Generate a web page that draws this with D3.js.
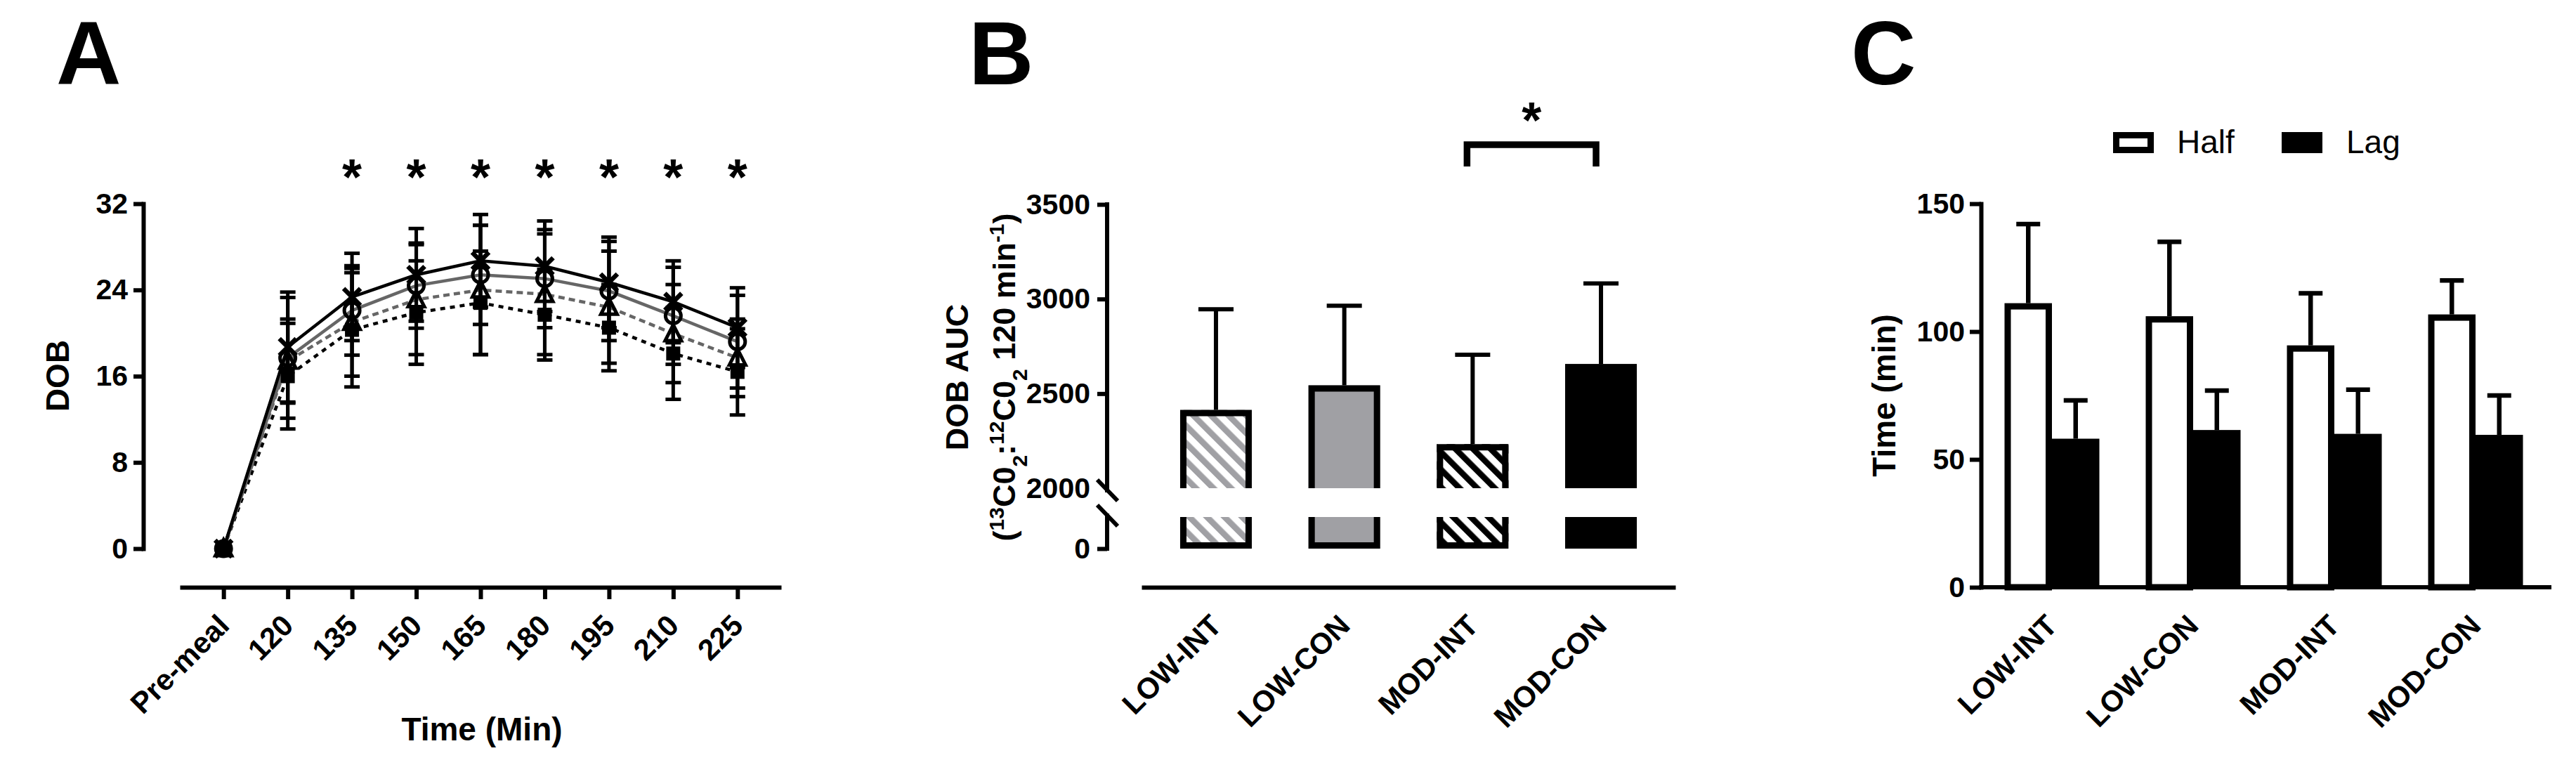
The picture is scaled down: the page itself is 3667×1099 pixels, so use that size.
<!DOCTYPE html>
<html>
<head>
<meta charset="utf-8">
<script src="https://cdn.jsdelivr.net/npm/d3@7"></script>
<style>
  html, body { margin: 0; padding: 0; background: #fff; }
  svg { display: block; }
  text { font-family: "Liberation Sans", Arial, sans-serif; fill: #000; }
</style>
</head>
<body>
<script>
var w = 3667;
var h = 1099;

// ---- panel A data (DOB over time, mean and SD per group) ----
var timeLabels = ["Pre-meal", "120", "135", "150", "165", "180", "195", "210", "225"];
var dobCross = [0, 18.7, 23.35, 25.4, 26.7, 26.2, 24.7, 22.9, 20.5];
var sdCross = [0, 5.1, 4.05, 4.3, 4.3, 4.2, 4.2, 3.8, 3.7];
var dobCircle = [0, 17.7, 22.1, 24.4, 25.4, 25.05, 23.9, 21.6, 19.2];
var sdCircle = [0, 5.6, 4.15, 3.95, 4.6, 4.55, 4.6, 4.5, 4.3];
var dobTriangle = [0, 17.4, 21.0, 23.1, 24.0, 23.6, 22.4, 19.95, 17.7];
var sdTriangle = [0, 3.9, 5.0, 5.1, 6.0, 5.6, 5.2, 4.55, 3.6];
var dobSquare = [0, 16.0, 20.3, 21.9, 22.8, 21.7, 20.5, 18.1, 16.4];
var sdSquare = [0, 4.9, 5.3, 4.8, 4.8, 4.2, 4.0, 4.25, 4.0];
var starTimes = ["135", "150", "165", "180", "195", "210", "225"];
var dobTicks = [0, 8, 16, 24, 32];

// ---- panel B data (DOB AUC) ----
var groups = ["LOW-INT", "LOW-CON", "MOD-INT", "MOD-CON"];
var aucMean = [2414, 2544, 2233, 2656];
var aucSD = [532, 420, 472, 426];
var aucTicksUpper = [2000, 2500, 3000, 3500];

// ---- panel C data (half and lag time) ----
var timeSeries = ["Half", "Lag"];
var halfMean = [111.1, 106.0, 94.6, 106.7];
var halfSD = [30.9, 29.1, 20.4, 13.3];
var lagMean = [58.1, 61.5, 60.0, 59.6];
var lagSD = [15.0, 15.4, 17.3, 15.4];
var timeTicks = [0, 50, 100, 150];

var svg = d3.select("body").append("svg").attr("width", w).attr("height", h);

var defs = svg.append("defs");
function hatch(id, color) {
  var p = defs.append("pattern")
    .attr("id", id)
    .attr("patternUnits", "userSpaceOnUse")
    .attr("width", 17.7)
    .attr("height", 17.7)
    .attr("patternTransform", "rotate(-45)");
  p.append("rect").attr("width", 17.7).attr("height", 17.7).attr("fill", "#fff");
  p.append("rect").attr("width", 8.5).attr("height", 17.7).attr("fill", color);
}
hatch("hatchGray", "#a0a0a4");
hatch("hatchBlack", "#000");

function styleAxis(g, size) {
  g.attr("font-family", null).attr("font-size", null);
  g.select(".domain").attr("stroke", "#000").attr("stroke-width", 6).attr("stroke-linecap", "square");
  g.selectAll(".tick line").attr("stroke", "#000").attr("stroke-width", 6);
  g.selectAll(".tick text")
    .style("font-size", size + "px")
    .style("font-weight", "bold")
    .attr("fill", "#000");
}

function rotateLabels(g) {
  g.selectAll(".tick text")
    .attr("x", 0)
    .attr("y", 0)
    .attr("dy", 0)
    .attr("transform", "translate(10,57) rotate(-45)")
    .style("text-anchor", "end");
}

function panelLetter(txt, x) {
  svg.append("text")
    .attr("x", x)
    .attr("y", 120)
    .style("font-size", "128px")
    .style("font-weight", "bold")
    .text(txt);
}

// ================= PANEL A =================
var xA = d3.scalePoint().domain(timeLabels).range([256, 1112]).padding(0.68);
var yA = d3.scaleLinear().domain([0, 32]).range([781, 290]);

panelLetter("A", 80);

var gAy = svg.append("g").attr("transform", "translate(204,0)")
  .call(d3.axisLeft(yA).tickValues(dobTicks).tickSize(14).tickPadding(8).tickSizeOuter(0));
styleAxis(gAy, 41);

var gAx = svg.append("g").attr("transform", "translate(0,836)")
  .call(d3.axisBottom(xA).tickSize(17).tickSizeOuter(0));
styleAxis(gAx, 42);
gAx.select(".domain").attr("stroke-linecap", "butt");
rotateLabels(gAx);

svg.append("text")
  .attr("transform", "translate(98,535) rotate(-90)")
  .attr("text-anchor", "middle")
  .style("font-size", "46px").style("font-weight", "bold")
  .text("DOB");

svg.append("text")
  .attr("x", 686).attr("y", 1054)
  .attr("text-anchor", "middle")
  .style("font-size", "46px").style("font-weight", "bold")
  .text("Time (Min)");

var seriesA = [
  { mean: dobSquare, sd: sdSquare, color: "#000", dash: "7,7", marker: "square" },
  { mean: dobTriangle, sd: sdTriangle, color: "#666", dash: "9,6", marker: "triangle" },
  { mean: dobCircle, sd: sdCircle, color: "#666", dash: null, marker: "circle" },
  { mean: dobCross, sd: sdCross, color: "#000", dash: null, marker: "cross" }
];

var lineA = d3.line()
  .x(function (d, i) { return xA(timeLabels[i]); })
  .y(function (d) { return yA(d); });

seriesA.forEach(function (s) {
  svg.append("path")
    .datum(s.mean)
    .attr("d", lineA)
    .attr("fill", "none")
    .attr("stroke", s.color)
    .attr("stroke-width", 4.5)
    .attr("stroke-dasharray", s.dash);
});

seriesA.forEach(function (s) {
  var eb = svg.append("g").attr("stroke", "#000").attr("stroke-width", 5);
  s.mean.forEach(function (m, i) {
    if (s.sd[i] === 0) return;
    var x = xA(timeLabels[i]);
    eb.append("line").attr("x1", x).attr("x2", x).attr("y1", yA(m - s.sd[i])).attr("y2", yA(m + s.sd[i]));
    [m - s.sd[i], m + s.sd[i]].forEach(function (v) {
      eb.append("line").attr("x1", x - 11).attr("x2", x + 11).attr("y1", yA(v)).attr("y2", yA(v));
    });
  });
});

function marker(type, x, y) {
  var g = svg.append("g").attr("transform", "translate(" + x + "," + y + ")");
  if (type === "square") {
    g.append("rect").attr("x", -10).attr("y", -10).attr("width", 20).attr("height", 20).attr("fill", "#000");
  } else if (type === "triangle") {
    g.append("path").attr("d", "M0,-12.5L11.5,10L-11.5,10Z")
      .attr("fill", "none").attr("stroke", "#000").attr("stroke-width", 5).attr("stroke-linejoin", "miter");
  } else if (type === "circle") {
    g.append("circle").attr("r", 11).attr("fill", "none").attr("stroke", "#000").attr("stroke-width", 5);
  } else {
    g.append("path").attr("d", "M-12,-12L12,12M12,-12L-12,12")
      .attr("stroke", "#000").attr("stroke-width", 6.5);
  }
}

seriesA.forEach(function (s) {
  s.mean.forEach(function (m, i) {
    marker(s.marker, xA(timeLabels[i]), yA(m));
  });
});

svg.selectAll(".starA")
  .data(starTimes)
  .enter()
  .append("text")
  .attr("class", "starA")
  .attr("x", function (d) { return xA(d); })
  .attr("y", 277)
  .attr("text-anchor", "middle")
  .style("font-size", "72px").style("font-weight", "bold")
  .text("*");

// ================= PANEL B =================
var xB = d3.scalePoint().domain(groups).range([1625, 2385]).padding(0.58);
var yBUp = d3.scaleLinear().domain([2000, 3500]).range([695, 291]);
var yBLow = d3.scaleLinear().domain([0, 160]).range([781, 736]);
var barW = 102;
var bFills = ["url(#hatchGray)", "#a0a0a4", "url(#hatchBlack)", "#000"];

panelLetter("B", 1379);

var gBy = svg.append("g").attr("transform", "translate(1576,0)")
  .call(d3.axisLeft(yBUp).tickValues(aucTicksUpper).tickFormat(d3.format("d"))
    .tickSize(14).tickPadding(10).tickSizeOuter(0));
styleAxis(gBy, 41);
gBy.select(".domain").attr("d", "M0," + yBUp(3500) + "V" + (yBUp(2000) + 3));
gBy.selectAll(".tick").filter(function (d) { return d === 2000; }).select("line").remove();

var gByLow = svg.append("g").attr("transform", "translate(1576,0)")
  .call(d3.axisLeft(yBLow).tickValues([0]).tickSize(14).tickPadding(10).tickSizeOuter(0));
styleAxis(gByLow, 41);
gByLow.select(".domain").attr("d", "M0," + yBLow(0) + "V" + (yBLow(160) - 2));

// axis break marks
[yBUp(2000) + 3, yBLow(160) - 2].forEach(function (y) {
  svg.append("line")
    .attr("x1", 1562).attr("y1", y - 15).attr("x2", 1591).attr("y2", y + 15)
    .attr("stroke", "#000").attr("stroke-width", 6);
});

var gBx = svg.append("g").attr("transform", "translate(0,836)")
  .call(d3.axisBottom(xB).tickSize(0).tickSizeOuter(0));
styleAxis(gBx, 42);
gBx.select(".domain").attr("stroke-linecap", "butt");
rotateLabels(gBx);

groups.forEach(function (gname, i) {
  var x0 = xB(gname) - barW / 2;
  var x1 = xB(gname) + barW / 2;
  var yTop = yBUp(aucMean[i]);
  var yBrk = yBUp(2000);
  var yLowTop = yBLow(160);
  var yBase = yBLow(0);
  // upper segment
  svg.append("rect").attr("x", x0).attr("y", yTop).attr("width", barW).attr("height", yBrk - yTop).attr("fill", bFills[i]);
  svg.append("path")
    .attr("d", "M" + (x0 + 4.5) + "," + yBrk + "V" + (yTop + 4.5) + "H" + (x1 - 4.5) + "V" + yBrk)
    .attr("fill", "none").attr("stroke", "#000").attr("stroke-width", 9);
  // lower segment
  svg.append("rect").attr("x", x0).attr("y", yLowTop).attr("width", barW).attr("height", yBase - yLowTop).attr("fill", bFills[i]);
  svg.append("path")
    .attr("d", "M" + (x0 + 4.5) + "," + yLowTop + "V" + (yBase - 4.5) + "H" + (x1 - 4.5) + "V" + yLowTop)
    .attr("fill", "none").attr("stroke", "#000").attr("stroke-width", 9);
  // error bar (upper only)
  var xc = xB(gname);
  var yErr = yBUp(aucMean[i] + aucSD[i]);
  svg.append("line").attr("x1", xc).attr("x2", xc).attr("y1", yTop).attr("y2", yErr)
    .attr("stroke", "#000").attr("stroke-width", 6);
  svg.append("line").attr("x1", xc - 25).attr("x2", xc + 25).attr("y1", yErr).attr("y2", yErr)
    .attr("stroke", "#000").attr("stroke-width", 6);
});

// significance bracket MOD-INT vs MOD-CON
var bl = xB("MOD-INT") - 8;
var br = xB("MOD-CON") - 7;
svg.append("path")
  .attr("d", "M" + bl + ",237V206H" + br + "V237")
  .attr("fill", "none").attr("stroke", "#000").attr("stroke-width", 9.5).attr("stroke-linejoin", "miter");
svg.append("text")
  .attr("x", (bl + br) / 2).attr("y", 196)
  .attr("text-anchor", "middle")
  .style("font-size", "72px").style("font-weight", "bold")
  .text("*");

svg.append("text")
  .attr("transform", "translate(1378,537) rotate(-90)")
  .attr("text-anchor", "middle")
  .style("font-size", "45px").style("font-weight", "bold")
  .text("DOB AUC");

var t2 = svg.append("text")
  .attr("transform", "translate(1445,537) rotate(-90)")
  .attr("text-anchor", "middle")
  .style("font-size", "45px").style("font-weight", "bold");
[["(", null], ["13", "super"], ["C0", null], ["2", "sub"], [":", null], ["12", "super"],
 ["C0", null], ["2", "sub"], [" 120 min", null], ["-1", "super"], [")", null]].forEach(function (p) {
  var ts = t2.append("tspan").text(p[0]);
  if (p[1]) ts.attr("baseline-shift", p[1]).style("font-size", "30px");
});

// ================= PANEL C =================
var xC = d3.scaleBand().domain(groups).range([2820.5, 3624.5]);
var xCIn = d3.scaleBand().domain(timeSeries)
  .range([xC.bandwidth() / 2 - 67.5, xC.bandwidth() / 2 + 67.5]);
var yC = d3.scaleLinear().domain([0, 150]).range([836, 290]);

panelLetter("C", 2635);

var gCy = svg.append("g").attr("transform", "translate(2820,0)")
  .call(d3.axisLeft(yC).tickValues(timeTicks).tickSize(16).tickPadding(7).tickSizeOuter(0));
styleAxis(gCy, 41);

var gCx = svg.append("g").attr("transform", "translate(0,836)")
  .call(d3.axisBottom(xC).tickSize(0).tickSizeOuter(0));
styleAxis(gCx, 42);
gCx.select(".domain").attr("d", "M2817,0H3632").attr("stroke-linecap", "butt");
rotateLabels(gCx);

svg.append("text")
  .attr("transform", "translate(2698,563) rotate(-90)")
  .attr("text-anchor", "middle")
  .style("font-size", "46px").style("font-weight", "bold")
  .text("Time (min)");

groups.forEach(function (gname, i) {
  var xh = xC(gname) + xCIn("Half");
  var xl = xC(gname) + xCIn("Lag");
  var bw = xCIn.bandwidth();
  svg.append("rect")
    .attr("x", xh + 4.5).attr("y", yC(halfMean[i]) + 4.5)
    .attr("width", bw - 9).attr("height", yC(0) - yC(halfMean[i]) - 4.5)
    .attr("fill", "#fff").attr("stroke", "#000").attr("stroke-width", 9);
  svg.append("rect")
    .attr("x", xl).attr("y", yC(lagMean[i]))
    .attr("width", bw).attr("height", yC(0) - yC(lagMean[i]))
    .attr("fill", "#000");
  [[xh + bw / 2, halfMean[i], halfSD[i]], [xl + bw / 2, lagMean[i], lagSD[i]]].forEach(function (e) {
    var yE = yC(e[1] + e[2]);
    svg.append("line").attr("x1", e[0]).attr("x2", e[0]).attr("y1", yC(e[1])).attr("y2", yE)
      .attr("stroke", "#000").attr("stroke-width", 6.5);
    svg.append("line").attr("x1", e[0] - 17).attr("x2", e[0] + 17).attr("y1", yE).attr("y2", yE)
      .attr("stroke", "#000").attr("stroke-width", 6.5);
  });
});

// legend
var legend = svg.append("g");
legend.append("rect").attr("x", 3012.5).attr("y", 192.5).attr("width", 49).attr("height", 21)
  .attr("fill", "#fff").attr("stroke", "#000").attr("stroke-width", 9);
legend.append("text").attr("x", 3099).attr("y", 218).style("font-size", "46px").text(timeSeries[0]);
legend.append("rect").attr("x", 3248).attr("y", 188).attr("width", 58).attr("height", 30).attr("fill", "#000");
legend.append("text").attr("x", 3340).attr("y", 218).style("font-size", "46px").text(timeSeries[1]);
</script>
</body>
</html>
